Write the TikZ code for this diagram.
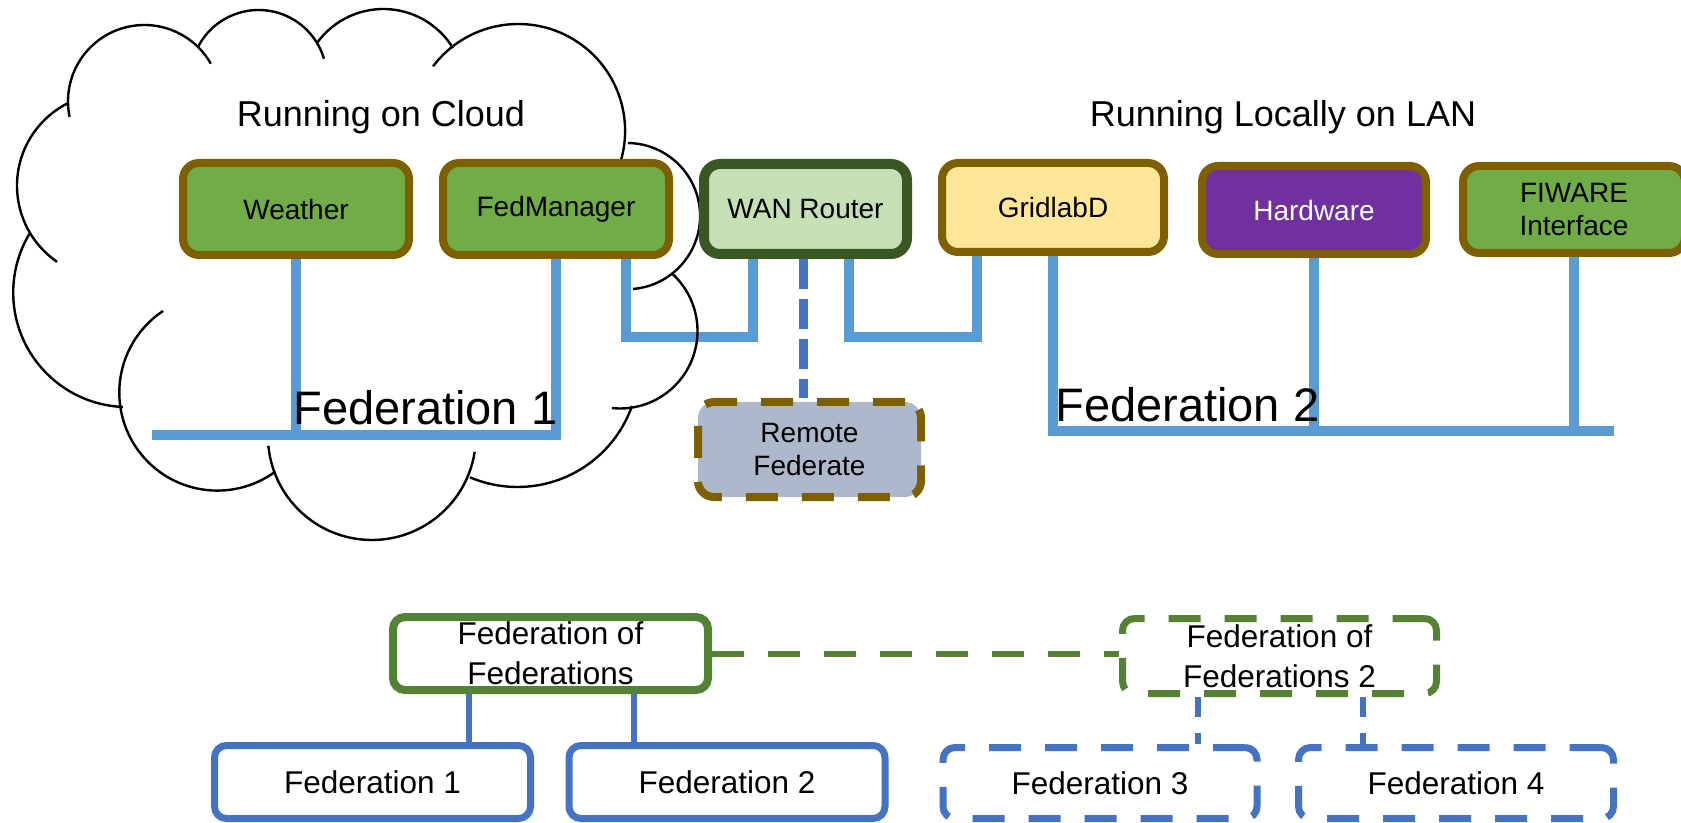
\documentclass[tikz,border=0pt]{standalone}
\usepackage{fontspec}
\setmainfont{Liberation Sans}
\definecolor{brownb}{HTML}{7F6000}
\definecolor{greenf}{HTML}{70AD47}
\definecolor{wanfill}{HTML}{C5E0B4}
\definecolor{wanline}{HTML}{385723}
\definecolor{gridfill}{HTML}{FFE699}
\definecolor{hwfill}{HTML}{7030A0}
\definecolor{remfill}{HTML}{ADB9CA}
\definecolor{lblue}{HTML}{5B9BD5}
\definecolor{dblue}{HTML}{4472C4}
\definecolor{fgreen}{HTML}{548235}
\pgfdeclarelayer{linelayer}
\pgfdeclarelayer{cloudlayer}
\pgfsetlayers{linelayer,cloudlayer,main}
\tikzset{
  topbox/.style={draw=brownb, line width=4pt, rounded corners=8pt, inner sep=0pt, outer sep=2pt,
    align=center, font=\fontsize{14}{16.5}\selectfont, minimum width=113pt, minimum height=46pt},
  fbox/.style={draw=dblue, line width=3.5pt, rounded corners=6pt, inner sep=0pt, outer sep=1.75pt,
    fill=white, align=center, font=\fontsize{15.75}{20}\selectfont, minimum width=158pt, minimum height=36.5pt},
  dashbox/.style={dash pattern=on 16pt off 12pt},
  fedline/.style={draw=lblue, line width=5pt, line join=miter},
  cloudline/.style={draw=black, line width=1.2pt},
  biglabel/.style={anchor=base west, inner sep=0pt, font=\fontsize{23.5}{28}\selectfont},
  titlelabel/.style={anchor=base, inner sep=0pt, font=\fontsize{18}{21}\selectfont},
}
\begin{document}
\begin{tikzpicture}[x=0.5pt,y=-0.5pt]
\useasboundingbox (0,0) rectangle (1681,823);
% helper x coordinates
\coordinate (x626) at (626,0);
\coordinate (x753) at (753,0);
\coordinate (x849) at (849,0);
\coordinate (x977) at (977,0);
\coordinate (x803) at (803,0);
\coordinate (x469) at (469,0);
\coordinate (x634) at (634,0);
\coordinate (x1198) at (1198,0);
\coordinate (x1363) at (1363,0);
\coordinate (f1end) at (152,435);
\coordinate (f2end) at (1614,431);

% top boxes
\node[topbox, fill=greenf] (weather) at (296,209) {Weather};
\node[topbox, fill=greenf] (fedm) at (556,209) {FedManager};
\node[topbox, fill=wanfill, draw=wanline, line width=5pt, outer sep=2.5pt, minimum width=101.5pt, minimum height=45pt] (wan) at (805.5,209) {WAN Router};
\node[topbox, fill=gridfill, minimum width=111pt, minimum height=44.5pt] (grid) at (1053,207.5) {GridlabD};
\node[topbox, fill=hwfill, text=white, minimum width=112pt, minimum height=44pt] (hw) at (1314,210) {Hardware};
\node[topbox, fill=greenf, minimum width=111pt, minimum height=43.5pt] (fiware) at (1574,209.5) {FIWARE\\Interface};
\node[topbox, dashbox, fill=remfill, minimum width=111.5pt, minimum height=47.5pt] (remote) at (809.5,449.5) {Remote\\Federate};

% labels
\node[titlelabel] (cloudlbl) at (381,127) {Running on Cloud};
\node[titlelabel] (lanlbl) at (1283,127) {Running Locally on LAN};
\node[biglabel] (fed1lbl) at (293,425) {Federation 1};
\node[biglabel] (fed2lbl) at (1055,422) {Federation 2};

% bottom boxes
\node[fbox, draw=fgreen, line width=4pt, outer sep=2pt, minimum width=157.5pt, minimum height=36.5pt] (fof) at (550.5,653.5) {Federation of\\Federations};
\node[fbox, draw=fgreen, dashbox, minimum width=157pt, minimum height=37.5pt] (fof2) at (1279.5,656) {Federation of\\Federations 2};
\node[fbox] (fed1) at (372.5,782) {Federation 1};
\node[fbox] (fed2) at (727,782) {Federation 2};
\node[fbox, dashbox, minimum width=157pt, minimum height=35.5pt] (fed3) at (1100,783) {Federation 3};
\node[fbox, dashbox, minimum width=157.5pt, minimum height=35.5pt] (fed4) at (1456,783) {Federation 4};

% connectors
\begin{pgfonlayer}{linelayer}
\draw[fedline] (weather.south) -- (weather.south |- f1end);
\draw[fedline] (fedm.south) |- (f1end);
\draw[fedline] (fedm.south -| x626) -- (626,337) -- (753,337) -- (wan.south -| x753);
\draw[fedline] (wan.south -| x849) -- (849,337) -- (977,337) -- (grid.south -| x977);
\draw[fedline] (grid.south) |- (f2end);
\draw[fedline] (hw.south) -- (hw.south |- f2end);
\draw[fedline] (fiware.south) -- (fiware.south |- f2end);
\draw[dblue, line width=4.5pt, dash pattern=on 15pt off 5pt] (wan.south -| x803) -- (remote.north -| x803);
\draw[dblue, line width=3pt] (fof.south -| x469) -- (fed1.north -| x469);
\draw[dblue, line width=3pt] (fof.south -| x634) -- (fed2.north -| x634);
\draw[fgreen, line width=3pt, dash pattern=on 16pt off 12pt] (fof.east) -- (fof2.west |- fof.east);
\draw[dblue, line width=3pt, dash pattern=on 10pt off 8pt] (fof2.south -| x1198) -- (fed3.north -| x1198);
\draw[dblue, line width=3pt, dash pattern=on 10pt off 8pt] (fof2.south -| x1363) -- (fed4.north -| x1363);
\end{pgfonlayer}

% cloud (arcs in pixel coordinates, y downwards)
\begin{pgfonlayer}{cloudlayer}
\draw[cloudline] (144.4,101.4) ++(168.3:76.4) arc[start angle=168.3, end angle=330.4, radius=76.4];
\draw[cloudline] (258.6,78.2) ++(207.2:68.2) arc[start angle=207.2, end angle=343.4, radius=68.2];
\draw[cloudline] (383.3,90.7) ++(215.7:81.7) arc[start angle=215.7, end angle=328.5, radius=81.7];
\draw[cloudline] (518.2,130.9) ++(217.2:106.9) arc[start angle=217.2, end angle=375.8, radius=106.9];
\draw[cloudline] (627,216.1) ++(-89.2:73.1) arc[start angle=-89.2, end angle=85.3, radius=73.1];
\draw[cloudline] (620,331) ++(-47.1:77.5) arc[start angle=-47.1, end angle=96, radius=77.5];
\draw[cloudline] (517.5,365.6) ++(19.4:121.4) arc[start angle=19.4, end angle=113.1, radius=121.4];
\draw[cloudline] (371.9,436) ++(8.7:104) arc[start angle=8.7, end angle=174.6, radius=104];
\draw[cloudline] (217.3,392.6) ++(53.6:98) arc[start angle=53.6, end angle=236.4, radius=98];
\draw[cloudline] (127.7,292.6) ++(92.4:114.5) arc[start angle=92.4, end angle=211.4, radius=114.5];
\draw[cloudline] (109.4,185.7) ++(124.5:92.4) arc[start angle=124.5, end angle=243.4, radius=92.4];
\end{pgfonlayer}
\end{tikzpicture}
\end{document}
